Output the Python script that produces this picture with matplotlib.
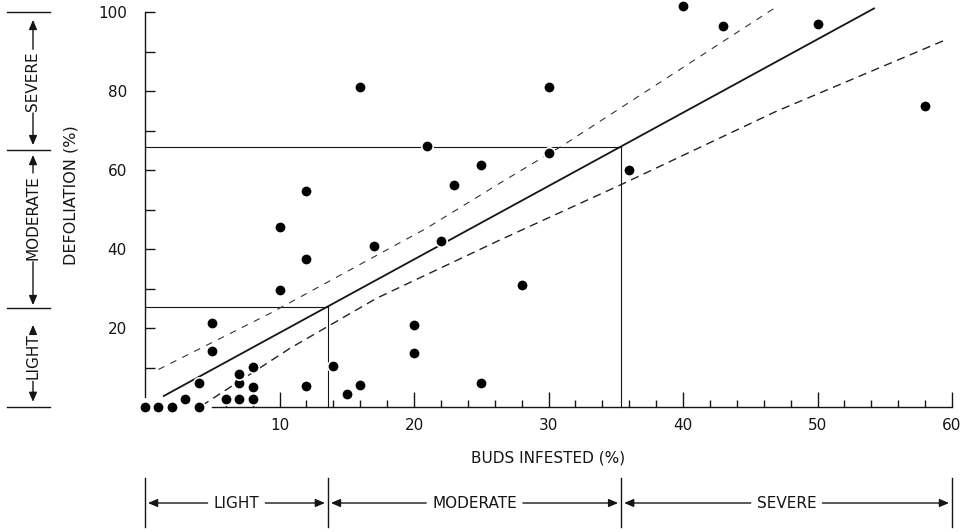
import matplotlib
matplotlib.use('Agg')
import matplotlib.pyplot as plt
from matplotlib.transforms import blended_transform_factory

# ---------------- data ----------------
buds_infested = [0, 1, 2, 3, 4, 4, 5, 5, 6, 7, 7, 7, 8, 8, 8, 10, 10, 12, 12, 12,
                 14, 15, 16, 16, 17, 20, 20, 21, 22, 23, 25, 25, 28, 30, 30, 36,
                 40, 43, 50, 58]
defoliation = [0, 0, 0, 2, 0, 6, 14.2, 21.3, 2, 2, 6.2, 8.3, 2, 5.1, 10.2, 29.5,
               45.6, 5.3, 37.4, 54.8, 10.4, 3.2, 5.5, 81, 40.8, 13.7, 20.8, 66,
               42, 56.2, 6, 61.2, 31, 81, 64.2, 60.1, 101.6, 96.5, 97, 76.1]

reg_x = [1.4, 54.2]
reg_y = [2.8, 100.9]
upper_x = [1.0, 9.3, 20.9, 26.4, 31.1, 46.9]
upper_y = [9.5, 23.7, 45.2, 56.7, 66.3, 101.2]
lower_x = [4.2, 10.8, 17.2, 26.4, 35.4, 46.9, 59.7]
lower_y = [0.3, 14.9, 27.5, 42.3, 56.3, 74.8, 93.2]

classes = ['LIGHT', 'MODERATE', 'SEVERE']
defol_bounds = [0, 25, 65, 100]
buds_bounds = [0, 13.6, 35.4, 60]
ref_x = [13.6, 35.4]
ref_y = [25.3, 65.7]

x_ticks = [10, 20, 30, 40, 50, 60]
x_tick_labels = ['10', '20', '30', '40', '50', '60']
y_ticks = [20, 40, 60, 80, 100]
y_tick_labels = ['20', '40', '60', '80', '100']

# ---------------- figure ----------------
W, H = 970, 532
fig = plt.figure(figsize=(W / 100, H / 100), dpi=100)
ax = fig.add_axes([145 / W, 125 / H, 807 / W, 395 / H])
ax.set_xlim(0, 60)
ax.set_ylim(0, 100)

ink = '#151515'
fs = 11

# reference lines
for rx, ry in zip(ref_x, ref_y):
    ax.plot([0, rx], [ry, ry], color=ink, lw=0.8, clip_on=False, zorder=2)
    ax.plot([rx, rx], [0, ry], color=ink, lw=0.8, clip_on=False, zorder=2)

# regression and band lines
ax.plot(reg_x, reg_y, color=ink, lw=1.3, clip_on=False, zorder=3)
ax.plot(upper_x, upper_y, color='#333333', lw=0.8, dashes=(6, 6),
        clip_on=False, zorder=3)
ax.plot(lower_x, lower_y, color='#222222', lw=1.0, dashes=(6, 4),
        clip_on=False, zorder=3)

# points
ax.scatter(buds_infested, defoliation, s=68, color='black', edgecolors='white',
           linewidths=1.2, clip_on=False, zorder=5)

# spines
for s in ['top', 'right']:
    ax.spines[s].set_visible(False)
ax.spines['left'].set_bounds(2.5, 100)
ax.spines['bottom'].set_bounds(5, 60)
for s in ['left', 'bottom']:
    ax.spines[s].set_linewidth(1.0)
    ax.spines[s].set_color(ink)

# ticks
ax.set_xticks(x_ticks)
ax.set_xticklabels(x_tick_labels, fontsize=fs, color=ink)
ax.set_xticks([v for v in range(6, 60, 2) if v % 10 != 0], minor=True)
ax.tick_params(axis='x', which='major', direction='in', length=11, width=1,
               pad=8, colors=ink)
ax.tick_params(axis='x', which='minor', direction='in', length=5, width=1,
               colors=ink)
ax.set_yticks(list(range(10, 101, 10)))
ax.set_yticklabels(['' if v not in y_ticks else y_tick_labels[y_ticks.index(v)]
                    for v in range(10, 101, 10)], fontsize=fs, color=ink)
ax.tick_params(axis='y', which='major', direction='in', length=7, width=1,
               pad=13, colors=ink)

# axis titles
fig.text(548 / W, (H - 458) / H, 'BUDS INFESTED (%)', ha='center', va='center',
         fontsize=fs, color=ink)
fig.text(71 / W, (H - 195) / H, 'DEFOLIATION (%)', ha='center', va='center',
         rotation=90, fontsize=fs + 0.5, color=ink)

# ---------------- left class scale ----------------
blend_left = blended_transform_factory(fig.transFigure, ax.transData)
for b in defol_bounds:
    ax.plot([7 / W, 50 / W], [b, b], color=ink, lw=1.0, transform=blend_left,
            clip_on=False)

left_centers = [12.8, 48.0, 82.5]
left_tips = [(1.3, 20.8), (25.8, 63.8), (66.3, 98.0)]
left_texts = []
for name, yc in zip(classes, left_centers):
    t = ax.text(33 / W, yc, name, rotation=90, ha='center', va='center',
                fontsize=fs, color=ink, transform=blend_left)
    left_texts.append(t)

# ---------------- bottom class scale ----------------
blend_bottom = blended_transform_factory(ax.transData, fig.transFigure)
for b in buds_bounds:
    ax.plot([b, b], [5 / H, 54 / H], color=ink, lw=1.0, transform=blend_bottom,
            clip_on=False)
bottom_texts = []
for i, name in enumerate(classes):
    xc = (buds_bounds[i] + buds_bounds[i + 1]) / 2
    t = ax.text(xc, (H - 503) / H, name, ha='center', va='center', fontsize=fs,
                color=ink, transform=blend_bottom)
    bottom_texts.append(t)

fig.canvas.draw()
renderer = fig.canvas.get_renderer()
arrow_kw = dict(arrowstyle='-|>,head_length=0.7,head_width=0.3', lw=1.0,
                color=ink, mutation_scale=8, shrinkA=0, shrinkB=0)

# left arrows
for t, (tip_lo, tip_hi) in zip(left_texts, left_tips):
    bb = t.get_window_extent(renderer)
    xm = (bb.x0 + bb.x1) / 2
    ylo = ax.transData.transform((0, tip_lo))[1]
    yhi = ax.transData.transform((0, tip_hi))[1]
    ax.annotate('', xy=(xm, yhi), xytext=(xm, bb.y1 + 2),
                xycoords='figure pixels', textcoords='figure pixels',
                arrowprops=arrow_kw)
    ax.annotate('', xy=(xm, ylo), xytext=(xm, bb.y0 - 2),
                xycoords='figure pixels', textcoords='figure pixels',
                arrowprops=arrow_kw)

# bottom arrows
for i, t in enumerate(bottom_texts):
    bb = t.get_window_extent(renderer)
    ym = (bb.y0 + bb.y1) / 2
    xl = ax.transData.transform((buds_bounds[i], 0))[0]
    xr = ax.transData.transform((buds_bounds[i + 1], 0))[0]
    ax.annotate('', xy=(xl + 3, ym), xytext=(bb.x0 - 6, ym),
                xycoords='figure pixels', textcoords='figure pixels',
                arrowprops=arrow_kw)
    ax.annotate('', xy=(xr - 3, ym), xytext=(bb.x1 + 6, ym),
                xycoords='figure pixels', textcoords='figure pixels',
                arrowprops=arrow_kw)

fig.savefig('out.png', dpi=100)
